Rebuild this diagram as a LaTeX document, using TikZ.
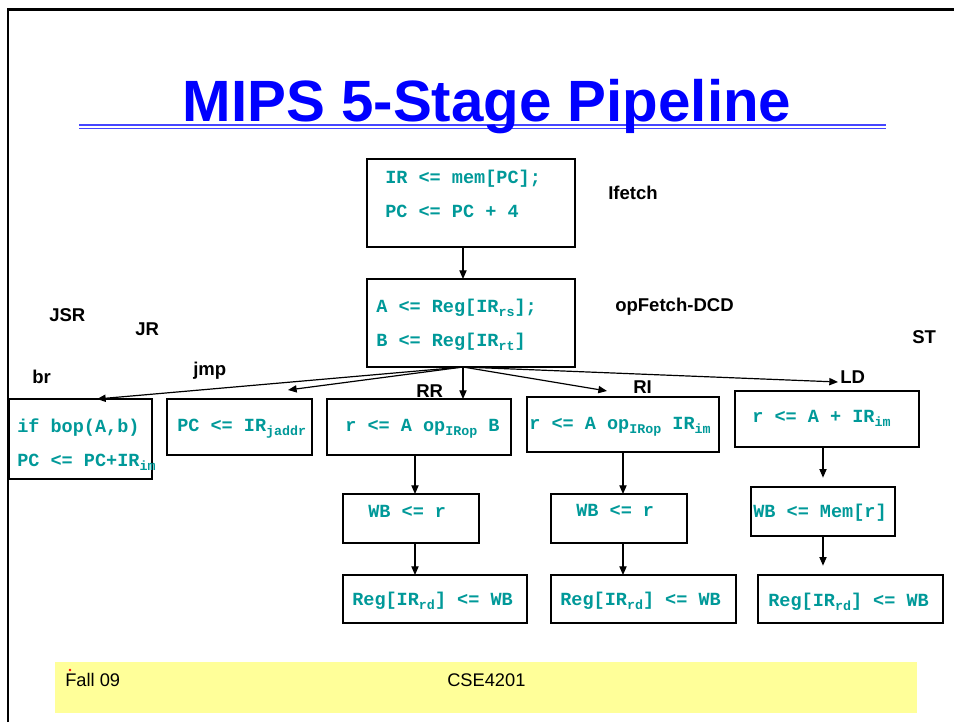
\documentclass[tikz,border=0pt]{standalone}
\usepackage{fontspec}
\setmainfont{Liberation Sans}
\newfontfamily\codefont{Liberation Mono}
\usetikzlibrary{arrows.meta}
\definecolor{codeteal}{RGB}{0,153,153}
\definecolor{titleblue}{RGB}{0,0,255}
\definecolor{ulblue}{RGB}{70,70,255}
\definecolor{footy}{RGB}{255,255,153}
\newcommand{\sbs}[1]{\raisebox{-3pt}{\fontsize{10}{10}\selectfont #1}}
\begin{document}
\begin{tikzpicture}[x=0.75pt,y=-0.75pt,
  bx/.style 2 args={draw=black, line width=1.1pt, inner sep=0pt, outer sep=0pt,
    minimum width={#1*0.75pt}, minimum height={#2*0.75pt}},
  code/.style={font=\codefont\bfseries\fontsize{13.9}{16}\selectfont, text=codeteal, inner sep=0pt, anchor=base west},
  lbl/.style={font=\bfseries\fontsize{13.9}{16}\selectfont, inner sep=0pt, anchor=base west},
  foot/.style={font=\fontsize{13.7}{16}\selectfont, inner sep=0pt, anchor=base west},
  arr/.style={line width=0.9pt, -{Triangle[length=6.5pt,width=5.4pt]}}]
\useasboundingbox (0,0) rectangle (954,722);
\fill[white] (0,0) rectangle (954,722);
% frame
\draw[line width=2pt] (8,722) -- (8,9.5) -- (954,9.5);
% title
\draw[ulblue, line width=1.7pt] (79,125.2) -- (886,125.2);
\draw[ulblue, line width=0.9pt] (79,128.8) -- (886,128.8);
\node[font=\bfseries\fontsize{43.7}{50}\selectfont, text=titleblue, inner sep=0pt, anchor=base] (title) at (487,121) {MIPS 5-Stage Pipeline};
% boxes
\node[bx={208}{88}] (ifetch) at (471,203) {};
\node[bx={208}{88}] (opf) at (471,323) {};
\node[bx={143}{80}] (br) at (80.5,439) {};
\node[bx={145}{56}] (jmp) at (239.5,427) {};
\node[bx={184}{56}] (rr) at (419,427) {};
\node[bx={192}{55}] (ri) at (623,424.5) {};
\node[bx={184}{56}] (ld) at (827,419) {};
\node[bx={136}{49}] (wb1) at (411,518.5) {};
\node[bx={136}{49}] (wb2) at (619,518.5) {};
\node[bx={144}{49}] (mem) at (823,511.5) {};
\node[bx={184}{48}] (reg1) at (435,599) {};
\node[bx={185}{48}] (reg2) at (643.5,599) {};
\node[bx={185}{48}] (reg3) at (850.5,599) {};
% box texts
\node[code] (t1a) at (385,183) {IR <= mem[PC];};
\node[code] (t1b) at (385,217) {PC <= PC + 4};
\node[code] (t2a) at (376,312) {A <= Reg[IR\sbs{rs}];};
\node[code] (t2b) at (376,346) {B <= Reg[IR\sbs{rt}]};
\node[code] (tbra) at (17,432) {if bop(A,b)};
\node[code] (tbrb) at (17,466) {PC <= PC+IR\sbs{im}};
\node[code] (tjmpt) at (177,431) {PC <= IR\sbs{jaddr}};
\node[code] (trr) at (345,431) {r <= A op\sbs{IRop} B};
\node[code] (tri) at (529,429) {r <= A op\sbs{IRop} IR\sbs{im}};
\node[code] (tld) at (752,422) {r <= A + IR\sbs{im}};
\node[code] (twb1) at (368,517) {WB <= r};
\node[code] (twb2) at (576,516) {WB <= r};
\node[code] (tmem) at (753,517) {WB <= Mem[r]};
\node[code] (treg1) at (352,605) {Reg[IR\sbs{rd}] <= WB};
\node[code] (treg2) at (560,605) {Reg[IR\sbs{rd}] <= WB};
\node[code] (treg3) at (768,606) {Reg[IR\sbs{rd}] <= WB};
% labels
\node[lbl] (lifetch) at (608,199) {Ifetch};
\node[lbl] (lopf) at (615,311) {opFetch-DCD};
\node[lbl] (ljsr) at (49,321) {JSR};
\node[lbl] (ljr) at (135,335) {JR};
\node[lbl] (lst) at (912,343) {ST};
\node[lbl] (lbr) at (32,383) {br};
\node[lbl] (ljmp) at (193,375) {jmp};
\node[lbl] (lrr) at (416,397) {RR};
\node[lbl] (lri) at (633,393) {RI};
\node[lbl] (lld) at (840,383) {LD};
% connectors
\coordinate (fan) at (463,367);
\coordinate (tipbr) at (97,399);
\coordinate (tipjmp) at (288,390);
\coordinate (tipri) at (607,391);
\coordinate (tipld) at (838,382);
\coordinate (colA) at (415,0);
\coordinate (colB) at (623,0);
\coordinate (colC) at (823,0);
\draw[arr] (ifetch.south -| fan) -- (opf.north -| fan);
\draw[arr] (fan) -- (tipbr);
\draw[arr] (fan) -- (tipjmp);
\draw[arr] (fan) -- (rr.north -| fan);
\draw[arr] (fan) -- (tipri);
\draw[arr] (fan) -- (tipld);
\draw[arr] (rr.south -| colA) -- (wb1.north -| colA);
\draw[arr] (wb1.south -| colA) -- (reg1.north -| colA);
\draw[arr] (ri.south -| colB) -- (wb2.north -| colB);
\draw[arr] (wb2.south -| colB) -- (reg2.north -| colB);
\draw[arr, shorten >=7pt] (ld.south -| colC) -- (mem.north -| colC);
\draw[arr, shorten >=7pt] (mem.south -| colC) -- (reg3.north -| colC);
% footer
\fill[footy] (55,662) rectangle (917,713);
\node[foot] (ffall) at (65,686) {Fall 09};
\node[foot] (fcse) at (447,686) {CSE4201};
\fill[red] (70,670) circle (1.3);
\end{tikzpicture}
\end{document}
